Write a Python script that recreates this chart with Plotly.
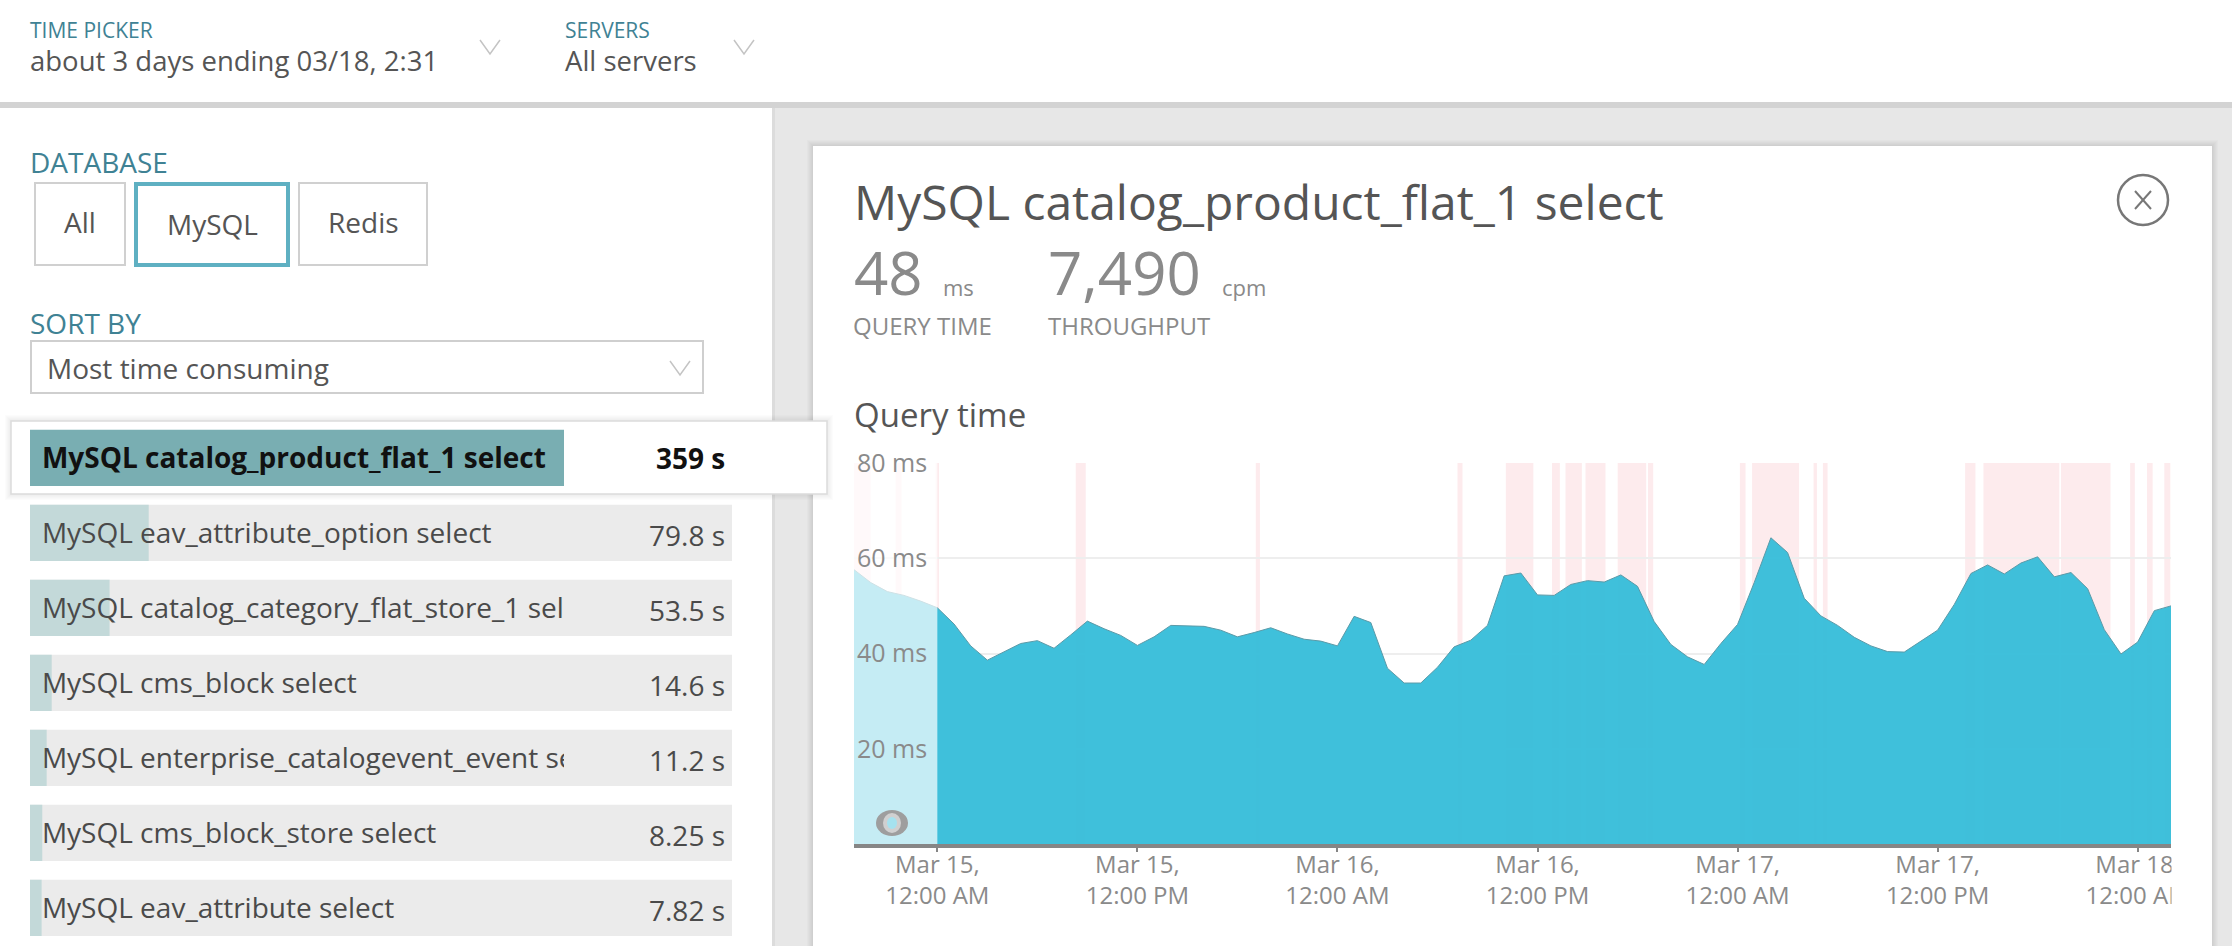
"""Database query panel: ranked list on the left, query time chart on the right."""
import pandas as pd
import plotly.graph_objects as go

WIDTH = 2232
HEIGHT = 946
FONT = 'Open Sans'

# hourly query time in ms, first sample at series_start
series_start = '2017-03-14 19:00'
query_time = [
    57.6, 54.9, 53.0, 52.2, 51.0, 49.6, 46.2, 41.6, 38.6, 40.3,
    42.1, 42.7, 41.1, 43.9, 46.8, 45.2, 43.8, 41.7, 43.5, 45.9,
    45.8, 45.7, 44.9, 43.5, 44.4, 45.4, 44.1, 43.0, 42.6, 41.6,
    47.8, 46.5, 36.9, 33.8, 33.8, 37.1, 41.4, 42.8, 45.9, 56.3,
    56.9, 52.3, 52.2, 54.5, 55.3, 55.0, 56.5, 54.1, 46.7, 41.9,
    39.3, 37.7, 42.1, 46.1, 54.9, 64.3, 61.2, 51.6, 47.9, 45.9,
    43.4, 41.6, 40.4, 40.3, 42.6, 44.9, 50.3, 56.8, 58.6, 56.7,
    59.0, 60.3, 56.1, 57.0, 53.6, 45.0, 39.9, 42.4, 49.0, 50.0,
]

# pink slow periods, hours after Mar 15 midnight
slow_starts = [-5.0, -2.5, -0.1, 8.3, 19.1, 31.2, 34.1, 36.87, 37.68, 38.88, 40.81, 42.63,
               48.14, 48.87, 52.56, 53.12, 61.65, 62.75, 67.4, 71.55, 72.56, 73.6]
slow_ends = [-4.0, -2.15, 0.1, 8.9, 19.35, 31.5, 35.75, 37.34, 38.66, 40.08, 42.52, 42.94,
             48.48, 51.69, 52.76, 53.4, 62.27, 67.3, 70.37, 71.83, 72.9, 73.96]

tick_times = ['2017-03-15 00:00', '2017-03-15 12:00', '2017-03-16 00:00', '2017-03-16 12:00',
              '2017-03-17 00:00', '2017-03-17 12:00', '2017-03-18 00:00']
tick_labels = ['Mar 15,<br>12:00 AM', 'Mar 15,<br>12:00 PM', 'Mar 16,<br>12:00 AM',
               'Mar 16,<br>12:00 PM', 'Mar 17,<br>12:00 AM', 'Mar 17,<br>12:00 PM',
               'Mar 18,<br>12:00 AM']
y_ticks = [20, 40, 60, 80]
y_labels = ['20 ms', '40 ms', '60 ms', '80 ms']

query_names = ['MySQL catalog_product_flat_1 select', 'MySQL eav_attribute_option select',
               'MySQL catalog_category_flat_store_1 select', 'MySQL cms_block select',
               'MySQL enterprise_catalogevent_event select', 'MySQL cms_block_store select',
               'MySQL eav_attribute select']
query_seconds = [359, 79.8, 53.5, 14.6, 11.2, 8.25, 7.82]


def px(x):
    return x / WIDTH


def py(y):
    return 1 - y / HEIGHT


def rect(x0, y0, x1, y1, fill='rgba(0,0,0,0)', line='rgba(0,0,0,0)', w=0, layer='below'):
    return dict(type='rect', xref='paper', yref='paper', x0=px(x0), x1=px(x1), y0=py(y0), y1=py(y1),
                fillcolor=fill, line=dict(color=line, width=w), layer=layer)


def ellipse(cx, cy, rx, ry, fill='rgba(0,0,0,0)', line='rgba(0,0,0,0)', w=0, layer='above'):
    return dict(type='circle', xref='paper', yref='paper', x0=px(cx - rx), x1=px(cx + rx),
                y0=py(cy - ry), y1=py(cy + ry), fillcolor=fill,
                line=dict(color=line, width=w), layer=layer)


def stroke(points, color, w):
    path = 'M ' + ' L '.join(f'{px(x):.5f} {py(y):.5f}' for x, y in points)
    return dict(type='path', xref='paper', yref='paper', path=path,
                line=dict(color=color, width=w), layer='above')


def chevron(cx, cy):
    return stroke([(cx - 10, cy - 7), (cx, cy + 7), (cx + 10, cy - 7)], '#c4c4c4', 1.5)


def label(text, x, y, size, color, anchor='left'):
    return dict(text=text, xref='paper', yref='paper', x=px(x), y=py(y), xanchor=anchor,
                yanchor='middle', showarrow=False, font=dict(family=FONT, size=size, color=color),
                borderpad=0, borderwidth=0)


TEAL = '#3f8294'
DARK = '#555555'
GREY = '#8a8a8a'

shapes = [
    rect(773, 108, WIDTH, HEIGHT, fill='#e7e7e7'),
    rect(772, 108, 775, HEIGHT, fill='#dcdcdc'),
    rect(0, 102, WIDTH, 108, fill='#d3d3d3'),
]
# panel shadow
for i in range(6, 0, -1):
    shapes.append(rect(813 - i, 146 - i, 2212 + i, HEIGHT, fill='rgba(0,0,0,0.014)'))
shapes.append(rect(813, 146, 2212, HEIGHT, fill='white'))

# database buttons and select box
shapes += [
    rect(35, 183, 125, 265, fill='white', line='#d0d0d0', w=2),
    rect(136, 184, 288, 265, fill='white', line='#5fb0c2', w=4),
    rect(299, 183, 427, 265, fill='white', line='#d0d0d0', w=2),
    rect(31, 341, 703, 393, fill='white', line='#cfcfcf', w=2),
]

# list rows, the first one sits on a raised card
for row in range(1, len(query_names)):
    shapes.append(dict(type='rect', xref='paper', yref='y2', x0=px(30), x1=px(732),
                       y0=row - 0.375, y1=row + 0.375, fillcolor='#ebebeb',
                       line=dict(width=0), layer='below'))
for i in range(6, 0, -1):
    shapes.append(rect(11 - i, 421 - i, 827 + i, 494 + i, fill='rgba(0,0,0,0.012)'))
shapes.append(rect(11, 421, 827, 494, fill='white', line='#dcdcdc', w=1.5))

# slow periods behind the area
midnight = pd.Timestamp(tick_times[0])
for start, end in zip(slow_starts, slow_ends):
    shapes.append(dict(type='rect', xref='x', yref='y', x0=midnight + pd.Timedelta(hours=start),
                       x1=midnight + pd.Timedelta(hours=end), y0=0, y1=80,
                       fillcolor='#fdebed', line=dict(width=0), layer='below'))

shapes += [
    rect(2171.5, 849, 2211, 925, fill='white', layer='above'),
    chevron(490, 47),
    chevron(744, 47),
    chevron(680, 368),
    ellipse(2143, 200, 25, 25, line='#777777', w=2.5),
    stroke([(2135, 191), (2151, 209)], '#777777', 2),
    stroke([(2151, 191), (2135, 209)], '#777777', 2),
    ellipse(892, 823, 16, 13, fill='#9e9e9e'),
    ellipse(892, 823, 9, 10, fill='#d0d0d0'),
    ellipse(892, 823, 5, 6, fill='#a5e2ef'),
]

annotations = [
    label('TIME PICKER', 30, 30, 21, TEAL),
    label('about 3 days ending 03/18, 2:31', 30, 61, 27.5, DARK),
    label('SERVERS', 565, 30, 21, TEAL),
    label('All servers', 565, 61, 27.5, DARK),
    label('DATABASE', 30, 162, 28, TEAL),
    label('All', 80, 222, 28, DARK, 'center'),
    label('MySQL', 212, 224, 28, DARK, 'center'),
    label('Redis', 363, 222, 28, DARK, 'center'),
    label('SORT BY', 30, 323, 28, TEAL),
    label('Most time consuming', 47, 368, 28, DARK),
    label('MySQL catalog_product_flat_1 select', 854, 202, 48, DARK),
    label('48', 854, 272, 60, GREY),
    label('ms', 943, 287, 22, GREY),
    label('7,490', 1048, 272, 60, GREY),
    label('cpm', 1222, 287, 22, GREY),
    label('QUERY TIME', 853, 325, 24, GREY),
    label('THROUGHPUT', 1048, 325, 24, GREY),
    label('Query time', 854, 414, 33, DARK),
]
# seconds column, right aligned at the end of the row
for row, seconds in enumerate(query_seconds):
    text = f'{seconds:g} s'
    annotations.append(dict(text=f'<b>{text}</b>' if row == 0 else text, xref='paper', yref='y2',
                            x=px(727), y=row, xanchor='right', yanchor='middle', showarrow=False,
                            yshift=0 if row == 0 else -2,
                            font=dict(family=FONT, size=28, color='#111111' if row == 0 else '#4a4a4a')))

times = pd.date_range(series_start, periods=len(query_time), freq='h')
rows = list(range(len(query_names)))

fig = go.Figure()
fig.add_trace(go.Scatter(x=times, y=query_time, mode='lines', fill='tozeroy',
                         fillcolor='rgba(53,189,217,0.95)',
                         line=dict(color='#5b9aa8', width=1), hoverinfo='skip', showlegend=False))
# time window still loading, washed out with white
fig.add_trace(go.Scatter(x=[times[0], midnight], y=[80, 80], mode='lines', fill='tozeroy',
                         fillcolor='rgba(255,255,255,0.7)', line=dict(width=0),
                         hoverinfo='skip', showlegend=False))

fig.add_trace(go.Bar(x=query_seconds, y=rows, orientation='h', width=0.75, xaxis='x2', yaxis='y2',
                     marker=dict(color=['#79aeb2'] + ['#c3d9d9'] * (len(rows) - 1), line=dict(width=0)),
                     hoverinfo='skip', showlegend=False))
# names live on the bar axis so long ones get cut where the axis ends
fig.add_trace(go.Scatter(x=[8] * len(rows), y=[r + 0.045 for r in rows], mode='text', xaxis='x2', yaxis='y2',
                         text=['<b>' + query_names[0] + '</b>'] + query_names[1:],
                         textposition='middle right', cliponaxis=True,
                         textfont=dict(family=FONT, size=28,
                                       color=['#111111'] + ['#4a4a4a'] * (len(rows) - 1)),
                         hoverinfo='skip', showlegend=False))

fig.update_layout(
    width=WIDTH, height=HEIGHT, autosize=False, margin=dict(l=0, r=0, t=0, b=0),
    paper_bgcolor='white', plot_bgcolor='rgba(0,0,0,0)', showlegend=False,
    font=dict(family=FONT, color=GREY),
    shapes=shapes, annotations=annotations,
    xaxis=dict(domain=[px(854), px(2171)], type='date', automargin=False,
               range=[times[0], times[-1]], tickmode='array', tickvals=tick_times, ticktext=tick_labels,
               showgrid=False, showline=True, linecolor='#868686', linewidth=4, zeroline=False,
               ticks='outside', ticklen=4, tickwidth=2, tickcolor='#868686', ticklabelstandoff=-8,
               tickfont=dict(family=FONT, size=24, color=GREY)),
    yaxis=dict(domain=[py(844), py(463)], range=[0, 80], tickmode='array', tickvals=y_ticks,
               automargin=False, ticktext=y_labels, ticklabelposition='inside',
               ticklabeloverflow='allow', ticks='',
               showgrid=True, gridcolor='#eeeeee', gridwidth=2, showline=False, zeroline=False,
               tickfont=dict(family=FONT, size=25, color=GREY)),
    xaxis2=dict(domain=[px(30), px(564)], range=[0, 359], anchor='y2', visible=False, automargin=False),
    yaxis2=dict(domain=[py(945.4), py(420.4)], range=[6.5, -0.5], anchor='x2', visible=False, automargin=False),
)

fig.write_html('out.html', config={'displayModeBar': False},
               post_script='document.body.style.margin = "0";')
